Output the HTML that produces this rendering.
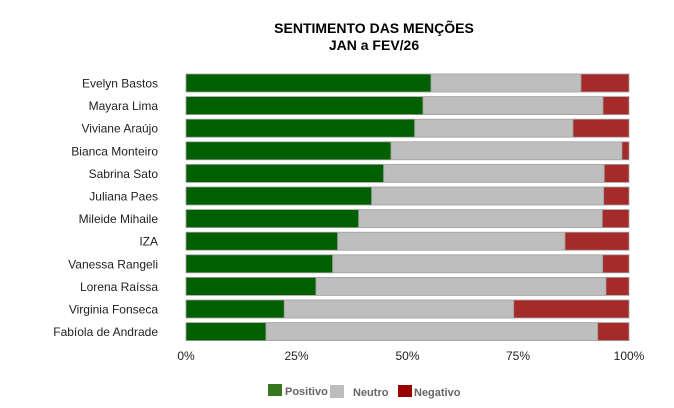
<!DOCTYPE html>
<html><head><style>
body{margin:0;background:#fff;}
svg{display:block;font-family:"Liberation Sans",Arial,sans-serif;}
</style></head><body>
<svg width="674" height="408" viewBox="0 0 674 408" xmlns="http://www.w3.org/2000/svg">
<text x="374" y="33" text-anchor="middle" font-size="14" font-weight="bold" fill="#000">SENTIMENTO DAS MENÇÕES</text>
<text x="374" y="50" text-anchor="middle" font-size="14" font-weight="bold" fill="#000">JAN a FEV/26</text>
<g id="bars" stroke="#a0a0a0" stroke-width="0.8"></g>
<g font-size="12" fill="#222" text-anchor="end" id="labels"></g>
<g font-size="12" fill="#222" text-anchor="middle">
<text x="186" y="360">0%</text><text x="296.5" y="360">25%</text><text x="407.5" y="360">50%</text><text x="518" y="360">75%</text><text x="629" y="360">100%</text>
</g>
<rect x="268" y="384" width="14" height="12" fill="#38761d"/>
<text x="285" y="395" font-size="11" font-weight="bold" fill="#666">Positivo</text>
<rect x="330" y="385" width="14" height="13" fill="#bdbdbd"/>
<text x="353" y="396" font-size="11" font-weight="bold" fill="#666">Neutro</text>
<rect x="398" y="385" width="14" height="12" fill="#990000"/>
<text x="414" y="396" font-size="11" font-weight="bold" fill="#666">Negativo</text>
<script>
var names=["Evelyn Bastos","Mayara Lima","Viviane Araújo","Bianca Monteiro","Sabrina Sato","Juliana Paes","Mileide Mihaile","IZA","Vanessa Rangeli","Lorena Raíssa","Virginia Fonseca","Fabíola de Andrade"];
var g=[431,423,414.7,391,383.7,371.7,358.7,337.7,332.7,316,284.3,266];
var r=[581,603,573,622,604.3,603.7,602.3,565,602.7,606,513.7,597.7];
var ns="http://www.w3.org/2000/svg",B=document.getElementById("bars"),L=document.getElementById("labels");
function rect(x,y,w,h,f){var e=document.createElementNS(ns,"rect");e.setAttribute("x",x);e.setAttribute("y",y);e.setAttribute("width",w);e.setAttribute("height",h);e.setAttribute("fill",f);B.appendChild(e);}
for(var i=0;i<12;i++){var y=74+i*22.6;
rect(186,y,g[i]-186,18,"#006000");rect(g[i],y,r[i]-g[i],18,"#bebebe");rect(r[i],y,629-r[i],18,"#a52a2a");
var t=document.createElementNS(ns,"text");t.setAttribute("x",158);t.setAttribute("y",y+13.5);t.textContent=names[i];L.appendChild(t);}
</script>
</svg>
</body></html>
